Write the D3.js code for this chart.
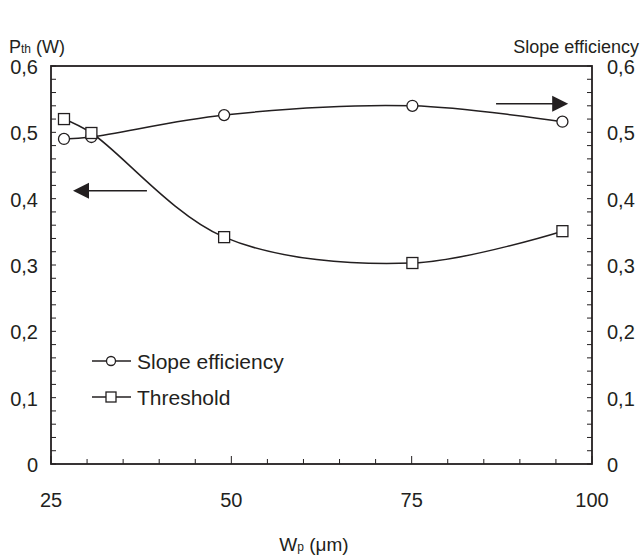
<!DOCTYPE html>
<html>
<head>
<meta charset="utf-8">
<script src="https://cdn.jsdelivr.net/npm/d3@7"></script>
<style>
  body { margin: 0; background: #fff; }
  text { font-family: "Liberation Sans", Arial, sans-serif; fill: #231f20; }
</style>
</head>
<body>
<svg id="chart" width="643" height="556"></svg>
<script>
// widths of the pump beam (um)
var widths = [26.8, 30.6, 49, 75.1, 95.9];
var slopeEff = [0.490, 0.493, 0.526, 0.540, 0.516];
var threshold = [0.520, 0.499, 0.342, 0.303, 0.351];
var xTicks = [25, 50, 75, 100];
var yTicks = [0, 0.1, 0.2, 0.3, 0.4, 0.5, 0.6];

var ink = '#231f20';
var svg = d3.select('#chart');

var x = d3.scaleLinear().domain([25, 100]).range([51, 592]);
var y = d3.scaleLinear().domain([0, 0.6]).range([464, 66]);

function fmt(d) {
  return d === 0 ? '0' : d3.format('.1f')(d).replace('.', ',');
}

// minor ticks, inward
var minorX = d3.range(25, 100.1, 5);
var minorY = d3.range(0, 0.601, 0.02);

var g = svg.append('g');

g.append('rect')
  .attr('x', x(25)).attr('y', y(0.6))
  .attr('width', x(100) - x(25)).attr('height', y(0) - y(0.6))
  .attr('fill', 'none').attr('stroke', ink).attr('stroke-width', 1.8);

g.selectAll('.xt').data(minorX).enter().append('line')
  .attr('x1', x).attr('x2', x)
  .attr('y1', y(0))
  .attr('y2', function(d) { return y(0) - (xTicks.indexOf(d) >= 0 ? 8 : 5); })
  .attr('stroke', ink).attr('stroke-width', 1);

g.selectAll('.yl').data(minorY).enter().append('line')
  .attr('x1', x(25)).attr('x2', x(25) + 5)
  .attr('y1', y).attr('y2', y)
  .attr('stroke', ink).attr('stroke-width', 1);

g.selectAll('.yr').data(minorY).enter().append('line')
  .attr('x1', x(100)).attr('x2', x(100) - 5)
  .attr('y1', y).attr('y2', y)
  .attr('stroke', ink).attr('stroke-width', 1);

// tick labels
g.selectAll('.xl').data(xTicks).enter().append('text')
  .attr('x', x).attr('y', 507)
  .attr('text-anchor', 'middle')
  .attr('font-size', 20)
  .text(function(d) { return d; });

g.selectAll('.ylab').data(yTicks).enter().append('text')
  .attr('x', 38).attr('y', function(d) { return y(d) + 8; })
  .attr('text-anchor', 'end')
  .attr('font-size', 20)
  .text(fmt);

g.selectAll('.yrab').data(yTicks).enter().append('text')
  .attr('x', 607).attr('y', function(d) { return y(d) + 8; })
  .attr('font-size', 20)
  .text(fmt);

// axis titles
var t1 = svg.append('text').attr('x', 9).attr('y', 53).attr('font-size', 18);
t1.append('tspan').text('P');
t1.append('tspan').attr('font-size', 12).text('th');
t1.append('tspan').text(' (W)');

svg.append('text').attr('x', 639).attr('y', 53)
  .attr('text-anchor', 'end').attr('font-size', 18)
  .text('Slope efficiency');

var t2 = svg.append('text').attr('x', 314).attr('y', 551)
  .attr('text-anchor', 'middle').attr('font-size', 19);
t2.append('tspan').text('W');
t2.append('tspan').attr('font-size', 12).text('p');
t2.append('tspan').text(' (\u03bcm)');

// curves
var line = d3.line()
  .x(function(d) { return x(d[0]); })
  .y(function(d) { return y(d[1]); })
  .curve(d3.curveCatmullRom.alpha(0.5));

var slopePts = d3.zip(widths, slopeEff);
var threshPts = d3.zip(widths, threshold);

svg.append('path').datum(slopePts).attr('d', line)
  .attr('fill', 'none').attr('stroke', ink).attr('stroke-width', 1.5);
svg.append('path').datum(threshPts).attr('d', line)
  .attr('fill', 'none').attr('stroke', ink).attr('stroke-width', 1.5);

svg.selectAll('.circ').data(slopePts).enter().append('circle')
  .attr('cx', function(d) { return x(d[0]); })
  .attr('cy', function(d) { return y(d[1]); })
  .attr('r', 5.5)
  .attr('fill', '#fff').attr('stroke', ink).attr('stroke-width', 1.3);

svg.selectAll('.sq').data(threshPts).enter().append('rect')
  .attr('x', function(d) { return x(d[0]) - 5.5; })
  .attr('y', function(d) { return y(d[1]) - 5.5; })
  .attr('width', 11).attr('height', 11)
  .attr('fill', '#fff').attr('stroke', ink).attr('stroke-width', 1.3);

// arrows pointing at the axis each curve belongs to
function arrow(x0, x1, yv) {
  var dir = x1 > x0 ? 1 : -1;
  var xa = x(x0), xb = x(x1), yy = y(yv);
  svg.append('line')
    .attr('x1', xa).attr('x2', xb - dir * 14)
    .attr('y1', yy).attr('y2', yy)
    .attr('stroke', ink).attr('stroke-width', 1.6);
  svg.append('path')
    .attr('d', 'M' + xb + ',' + yy + 'L' + (xb - dir * 16) + ',' + (yy - 8) +
      'L' + (xb - dir * 16) + ',' + (yy + 8) + 'Z')
    .attr('fill', ink);
}
arrow(38.3, 28.05, 0.412);
arrow(86.7, 96.7, 0.543);

// legend
var legend = svg.append('g').attr('transform', 'translate(92,361)');
var items = [
  { label: 'Slope efficiency', shape: 'circle' },
  { label: 'Threshold', shape: 'square' }
];
items.forEach(function(it, i) {
  var row = legend.append('g').attr('transform', 'translate(0,' + i * 36 + ')');
  row.append('line').attr('x1', 0).attr('x2', 39)
    .attr('stroke', ink).attr('stroke-width', 1.5);
  if (it.shape === 'circle') {
    row.append('circle').attr('cx', 19).attr('r', 4.5)
      .attr('fill', '#fff').attr('stroke', ink).attr('stroke-width', 1.3);
  } else {
    row.append('rect').attr('x', 14).attr('y', -5).attr('width', 10).attr('height', 10)
      .attr('fill', '#fff').attr('stroke', ink).attr('stroke-width', 1.3);
  }
  row.append('text').attr('x', 45).attr('y', 7.5).attr('font-size', 21).text(it.label);
});
</script>
</body>
</html>
